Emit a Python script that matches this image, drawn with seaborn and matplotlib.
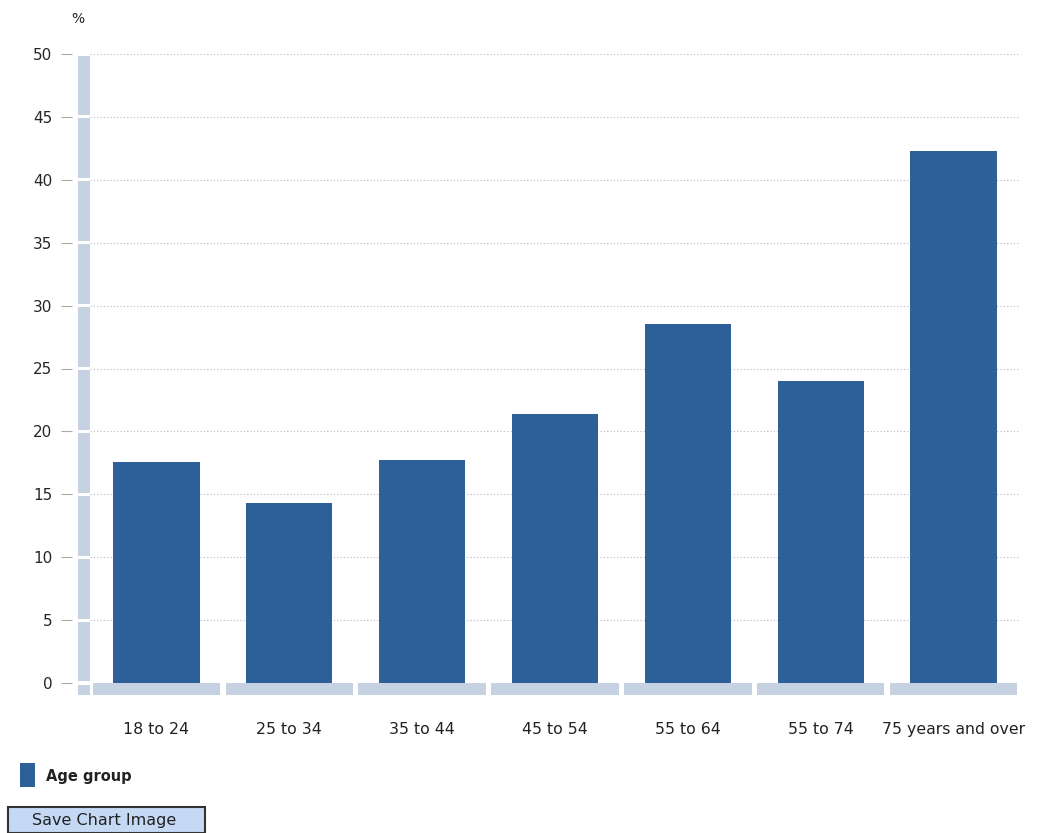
import matplotlib
matplotlib.use("Agg")
import matplotlib.pyplot as plt
import matplotlib.transforms as mtransforms
from matplotlib.patches import Rectangle
import seaborn as sns
import pandas as pd

categories = ["18 to 24", "25 to 34", "35 to 44", "45 to 54", "55 to 64", "55 to 74", "75 years and over"]
values = [17.6, 14.3, 17.7, 21.4, 28.5, 24.0, 42.3]
y_ticks = [0, 5, 10, 15, 20, 25, 30, 35, 40, 45, 50]
series_name = "Age group"

sns.set_theme(style="white")
plt.rcParams["font.family"] = ["DejaVu Sans"]

bar_color = "#2d5f98"
band_color = "#c6d2e2"
text_color = "#222222"

fig = plt.figure(figsize=(10.37, 8.33), dpi=100)
ax = fig.add_axes([90/1037, 1-683/833, 930/1037, (683-54)/833])

df = pd.DataFrame({"cat": categories, "val": values})
sns.barplot(data=df, x="cat", y="val", color=bar_color, width=0.65, ax=ax,
            saturation=1, edgecolor="none", zorder=3)

ax.set_ylim(0, 50)
ax.set_xlim(-0.5, len(categories) - 0.5)
ax.set_yticks(y_ticks)
ax.set_yticklabels([str(t) for t in y_ticks], fontsize=11.5, color=text_color)
ax.set_xticks(range(len(categories)))
ax.set_xticklabels(categories, fontsize=11.3, color=text_color)
ax.set_xlabel("")
ax.set_ylabel("")
for s in ax.spines.values():
    s.set_visible(False)
ax.spines["left"].set_position(("outward", 13))

# dotted gridlines
for t in y_ticks[1:]:
    ax.axhline(t, color="#b8b8b8", linestyle=(0, (1, 2)), linewidth=0.8, zorder=1)

ax.tick_params(axis="y", length=8, width=0.8, color="#aaaaaa", pad=6, left=True)
ax.tick_params(axis="x", length=0, pad=28)

# y axis band (segmented)
ytrans = mtransforms.blended_transform_factory(ax.transAxes, ax.transData)
bw = 12 / 930
for i in range(len(y_ticks) - 1):
    lo = y_ticks[i] + 0.12
    hi = y_ticks[i + 1] - 0.12
    ax.add_patch(Rectangle((-bw, lo), bw, hi - lo, transform=ytrans,
                           facecolor=band_color, edgecolor="none", clip_on=False, zorder=2))
ax.add_patch(Rectangle((-bw, -12/629*50), bw, 12/629*50 - 0.12, transform=ytrans,
                       facecolor=band_color, edgecolor="none", clip_on=False, zorder=2))

# x axis band (segmented)
xtrans = mtransforms.blended_transform_factory(ax.transData, ax.transAxes)
bh = 12 / 629
for i in range(len(categories)):
    ax.add_patch(Rectangle((i - 0.5 + 0.02, -bh), 0.96, bh, transform=xtrans,
                           facecolor=band_color, edgecolor="none", clip_on=False, zorder=2))

# unit label
fig.text(78/1037, 1-19/833, "%", fontsize=10, color=text_color, ha="center", va="center")

# legend
fig.patches.append(Rectangle((20/1037, 1-787/833), 15/1037, 24/833, transform=fig.transFigure,
                             facecolor=bar_color, edgecolor="none"))
fig.text(46/1037, 1-776/833, series_name, fontsize=10.5, fontweight="bold", color=text_color,
         ha="left", va="center")

# button
fig.patches.append(Rectangle((8/1037, 0), 197/1037, 26/833, transform=fig.transFigure,
                             facecolor="#c5d9f5", edgecolor="#333333", linewidth=1.5))
fig.text(104/1037, 1-821/833, "Save Chart Image", fontsize=11.5, color=text_color,
         ha="center", va="center")

fig.savefig("out.png", dpi=100)
